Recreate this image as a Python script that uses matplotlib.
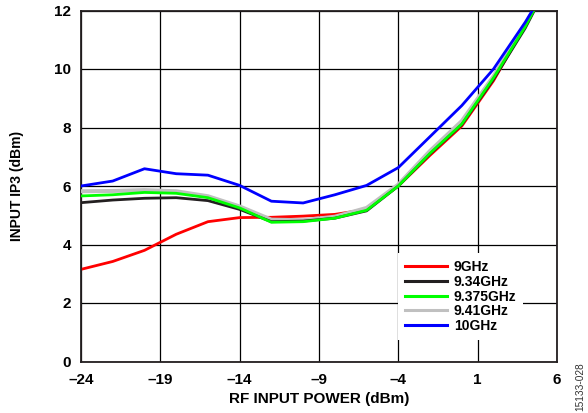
import matplotlib
matplotlib.use('Agg')
import matplotlib.pyplot as plt
from matplotlib.ticker import FuncFormatter

plt.rcParams['font.family'] = ['Liberation Sans', 'DejaVu Sans']

# RF input power (dBm)
power = [-24, -22, -20, -18, -16, -14, -12, -10, -8, -6, -4, -2, 0, 2, 4, 6]

# input IP3 (dBm) per frequency
ip3_9ghz = [3.15, 3.42, 3.8, 4.35, 4.78, 4.92, 4.93, 4.97, 5.03, 5.2, 6.0, 7.05, 8.05, 9.6, 11.5, 13.6]
ip3_934ghz = [5.43, 5.52, 5.58, 5.6, 5.5, 5.2, 4.78, 4.8, 4.9, 5.15, 6.0, 7.1, 8.1, 9.65, 11.4, 13.5]
ip3_9375ghz = [5.66, 5.7, 5.78, 5.75, 5.6, 5.25, 4.76, 4.78, 4.9, 5.17, 6.0, 7.12, 8.12, 9.7, 11.45, 13.5]
ip3_941ghz = [5.82, 5.83, 5.86, 5.82, 5.65, 5.3, 4.85, 4.83, 4.95, 5.25, 6.05, 7.2, 8.22, 9.75, 11.5, 13.5]
ip3_10ghz = [6.0, 6.17, 6.59, 6.42, 6.37, 6.02, 5.48, 5.42, 5.7, 6.02, 6.63, 7.69, 8.75, 10.0, 11.6, 13.4]

labels = ['9GHz', '9.34GHz', '9.375GHz', '9.41GHz', '10GHz']

fig = plt.figure(figsize=(5.88, 4.13), dpi=100)
ax = fig.add_axes([81 / 588, 51.5 / 413, 476 / 588, 351 / 413])

h_red, = ax.plot(power, ip3_9ghz, color='#ff0000', lw=2.0, zorder=2)
h_gray, = ax.plot(power, ip3_941ghz, color='#c0c0c0', lw=2.9, zorder=3)
h_black, = ax.plot(power, ip3_934ghz, color='#231f20', lw=2.0, zorder=4)
h_green, = ax.plot(power, ip3_9375ghz, color='#00ff00', lw=2.0, zorder=5)
h_blue, = ax.plot(power, ip3_10ghz, color='#0000ff', lw=2.0, zorder=6)

ax.set_xlim(-24, 6)
ax.set_ylim(0, 12)
ax.set_xticks([-24, -19, -14, -9, -4, 1, 6])
ax.set_yticks([0, 2, 4, 6, 8, 10, 12])
ax.xaxis.set_major_formatter(FuncFormatter(lambda v, p: ('%d' % v).replace('-', '\u2013')))
ax.grid(True, color='black', lw=0.9, zorder=1)
ax.tick_params(length=0, labelsize=11)
ax.tick_params(axis='x', pad=8)
ax.tick_params(axis='y', pad=7)
for lbl in ax.get_xticklabels() + ax.get_yticklabels():
    lbl.set_fontweight('bold')
for sp in ax.spines.values():
    sp.set_linewidth(1.3)
    sp.set_color('#231f20')

ax.set_xlabel('RF INPUT POWER (dBm)', fontsize=11, fontweight='bold', labelpad=4)
ax.set_ylabel('INPUT IP3 (dBm)', fontsize=10, fontweight='bold', labelpad=22)

leg = ax.legend([h_red, h_black, h_green, h_gray, h_blue], labels,
                loc='upper left', bbox_to_anchor=(0.652, 0.328), frameon=True,
                fancybox=False, edgecolor='none', framealpha=1,
                prop={'weight': 'bold', 'size': 10}, handlelength=3.0,
                labelspacing=0.05, handletextpad=0.5, borderpad=0.5)
leg.set_zorder(10)
for line in leg.get_lines():
    line.set_linewidth(2.2)

fig.text(0.986, 0.006, '15133-028', rotation=90, fontsize=7.3, color='#333333',
         ha='center', va='bottom')

fig.savefig('out.png', dpi=100)
